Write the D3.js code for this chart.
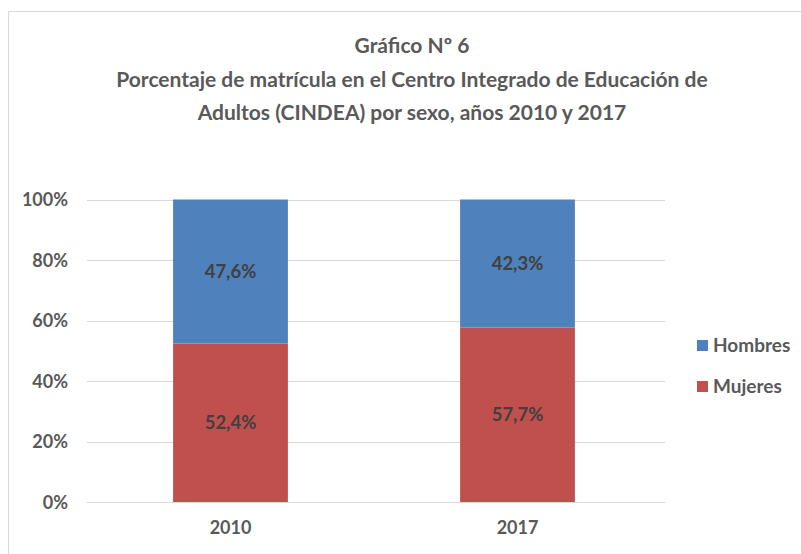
<!DOCTYPE html>
<html><head><meta charset="utf-8">
<script src="https://cdn.jsdelivr.net/npm/d3@7"></script>
<style>body{margin:0;background:#fff}svg{display:block}</style>
</head><body>
<svg id="c" width="801" height="554"></svg>
<script>
const categories = ["2010", "2017"];
const seriesNames = ["Mujeres", "Hombres"];
const mujeres = [52.4, 57.7];
const hombres = [47.6, 42.3];
const yTicks = [0, 20, 40, 60, 80, 100];
const titleLines = ["Gráfico Nº 6", "Porcentaje de matrícula en el Centro Integrado de Educación de", "Adultos (CINDEA) por sexo, años 2010 y 2017"];

const colors = {Mujeres: "#C0504D", Hombres: "#4F81BD"};
const font = "Lato, 'Open Sans', sans-serif";
const svg = d3.select("#c");

svg.append("rect").attr("x", 8.5).attr("y", 11.5).attr("width", 800).attr("height", 560)
  .attr("fill", "#fff").attr("stroke", "#d9d9d9").attr("stroke-width", 1);

const m = {left: 87, right: 665, top: 199.5, bottom: 502};
const x = d3.scaleBand().domain(categories).range([m.left, 661]).paddingInner(0.6).paddingOuter(0.3);
const y = d3.scaleLinear().domain([0, 100]).range([m.bottom, m.top]);

// title
svg.append("g").selectAll("text").data(titleLines).join("text")
  .attr("x", 412).attr("y", (d, i) => 53 + i * 33.5)
  .attr("text-anchor", "middle").attr("font-family", font).attr("font-weight", "bold")
  .attr("font-size", 21).attr("fill", "#595959").text(d => d);

// gridlines
svg.append("g").selectAll("line").data(yTicks).join("line")
  .attr("x1", m.left).attr("x2", m.right)
  .attr("y1", d => Math.round(y(d)) + 0.5).attr("y2", d => Math.round(y(d)) + 0.5)
  .attr("stroke", "#d9d9d9").attr("stroke-width", 1.2);

// y axis
const yAxis = d3.axisLeft(y).tickValues(yTicks).tickFormat(d => d + "%").tickSize(0).tickPadding(0);
const gy = svg.append("g").attr("transform", `translate(${m.left - 19},0)`).call(yAxis);
gy.select(".domain").remove();
gy.selectAll("text").attr("font-family", font).attr("font-weight", "bold").attr("font-size", 18).attr("fill", "#595959").attr("dy", "0.35em");

// x axis
const xAxis = d3.axisBottom(x).tickSize(0).tickPadding(0);
const gx = svg.append("g").attr("transform", `translate(0,${m.bottom + 19})`).call(xAxis);
gx.select(".domain").remove();
gx.selectAll("text").attr("font-family", font).attr("font-weight", "bold").attr("font-size", 18).attr("fill", "#595959").attr("dy", "0.71em");

// stacked data
const table = categories.map((c, i) => ({cat: c, Mujeres: mujeres[i], Hombres: hombres[i]}));
const stack = d3.stack().keys(seriesNames)(table);

const fmt = v => v.toFixed(1).replace(".", ",") + "%";
stack.forEach(layer => {
  const g = svg.append("g");
  g.selectAll("rect").data(layer).join("rect")
    .attr("x", d => x(d.data.cat)).attr("width", x.bandwidth())
    .attr("y", d => y(d[1])).attr("height", d => y(d[0]) - y(d[1]))
    .attr("fill", colors[layer.key]);
  g.selectAll("text").data(layer).join("text")
    .attr("x", d => x(d.data.cat) + x.bandwidth() / 2)
    .attr("y", d => y((d[0] + d[1]) / 2)).attr("dy", "0.35em")
    .attr("text-anchor", "middle").attr("font-family", font).attr("font-weight", "bold")
    .attr("font-size", 18.5).attr("fill", "#404040")
    .text(d => fmt(d[1] - d[0]));
});

// legend
const legendItems = ["Hombres", "Mujeres"];
const lg = svg.append("g").selectAll("g").data(legendItems).join("g")
  .attr("transform", (d, i) => `translate(697,${345 + i * 41})`);
lg.append("rect").attr("x", 0).attr("y", -5).attr("width", 11).attr("height", 11).attr("fill", d => colors[d]);
lg.append("text").attr("x", 16).attr("y", 0).attr("dy", "0.35em")
  .attr("font-family", font).attr("font-weight", "bold").attr("font-size", 19).attr("fill", "#595959").text(d => d);
</script>
</body></html>
